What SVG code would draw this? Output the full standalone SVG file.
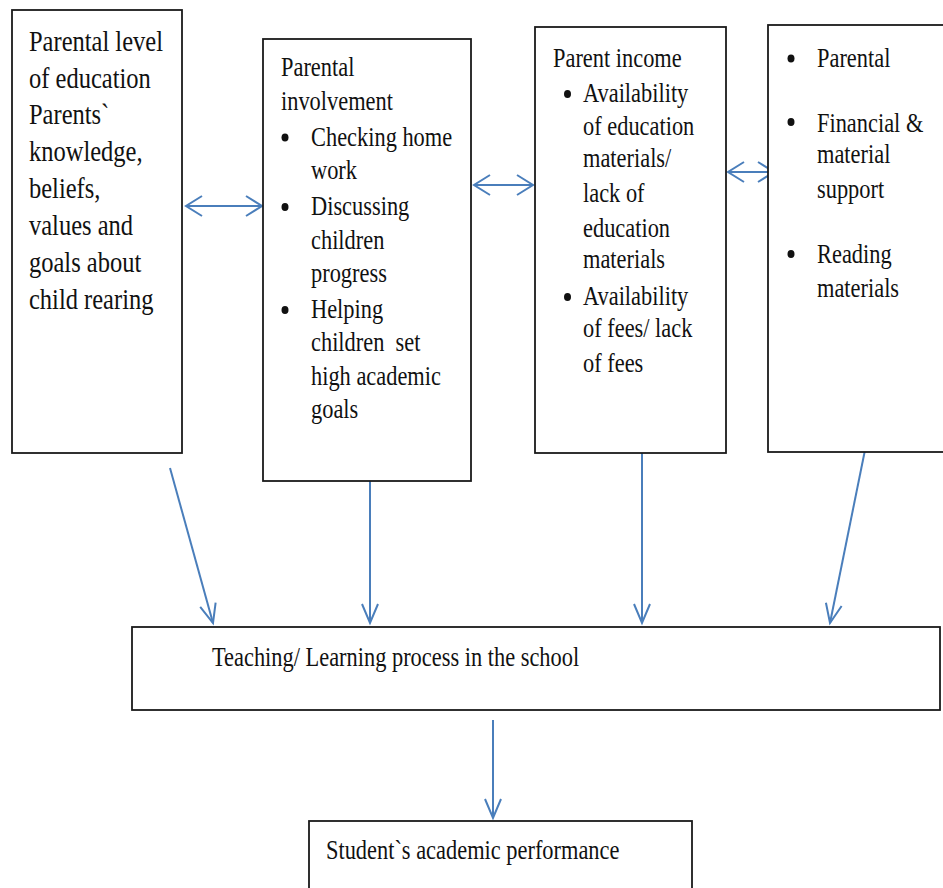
<svg xmlns="http://www.w3.org/2000/svg" width="943" height="888" viewBox="0 0 943 888">
<style>
.box{fill:#fff;stroke:#1a1a1a;stroke-width:1.8}
text{font-family:'Liberation Serif','DejaVu Serif',serif;fill:#111}
.t{font-size:22.4px}
.t1{font-size:24.5px}
.c{stroke:#4a7ebb;stroke-width:2;fill:none}
.b{fill:#111}
</style>
<defs>
<marker id="ahv" markerUnits="userSpaceOnUse" markerWidth="22" markerHeight="20" refX="20" refY="9" orient="auto" overflow="visible">
<path d="M1,1 L20,9 L1,17" fill="none" stroke="#4a7ebb" stroke-width="2"/>
</marker>
<marker id="ahh" markerUnits="userSpaceOnUse" markerWidth="19" markerHeight="24" refX="17" refY="11" orient="auto-start-reverse" overflow="visible">
<path d="M1,1 L17,11 L1,21" fill="none" stroke="#4a7ebb" stroke-width="2"/>
</marker>
</defs>
<rect width="943" height="888" fill="#fff"/>
<g id="connectors">
<line class="c" x1="186" y1="206" x2="262" y2="206" marker-start="url(#ahh)" marker-end="url(#ahh)"/>
<line class="c" x1="474" y1="185" x2="533" y2="185" marker-start="url(#ahh)" marker-end="url(#ahh)"/>
<line class="c" x1="728" y1="172" x2="774" y2="172" marker-start="url(#ahh)" marker-end="url(#ahh)"/>
<line class="c" x1="170" y1="468" x2="213" y2="623" marker-end="url(#ahv)"/>
<line class="c" x1="370" y1="481" x2="370" y2="623" marker-end="url(#ahv)"/>
<line class="c" x1="642" y1="453" x2="642" y2="623" marker-end="url(#ahv)"/>
<line class="c" x1="865" y1="450" x2="830" y2="623" marker-end="url(#ahv)"/>
<line class="c" x1="493" y1="720" x2="493" y2="818" marker-end="url(#ahv)"/>
</g>
<g id="node-education">
<rect class="box" x="12" y="10" width="170" height="443"/>
<text class="t1" font-family="Liberation Serif, serif" transform="translate(29,51) scale(1,1.17)">Parental level</text>
<text class="t1" transform="translate(29,88) scale(1,1.17)">of education</text>
<text class="t1" transform="translate(29,124) scale(1,1.17)">Parents`</text>
<text class="t1" transform="translate(29,161) scale(1,1.17)">knowledge,</text>
<text class="t1" transform="translate(29,198) scale(1,1.17)">beliefs,</text>
<text class="t1" transform="translate(29,235) scale(1,1.17)">values and</text>
<text class="t1" transform="translate(29,272) scale(1,1.17)">goals about</text>
<text class="t1" transform="translate(29,309) scale(1,1.17)">child rearing</text>
</g>
<g id="node-involvement">
<rect class="box" x="263" y="39" width="208" height="442"/>
<text class="t" transform="translate(281,76) scale(1,1.2)">Parental</text>
<text class="t" transform="translate(281,110) scale(1,1.2)">involvement</text>
<ellipse class="b" cx="285" cy="137.5" rx="3.5" ry="4"/>
<text class="t" transform="translate(311,146) scale(1,1.2)">Checking home</text>
<text class="t" transform="translate(311,179) scale(1,1.2)">work</text>
<ellipse class="b" cx="285" cy="207" rx="3.5" ry="4"/>
<text class="t" transform="translate(311,215) scale(1,1.2)">Discussing</text>
<text class="t" transform="translate(311,249) scale(1,1.2)">children</text>
<text class="t" transform="translate(311,282) scale(1,1.2)">progress</text>
<ellipse class="b" cx="285" cy="310" rx="3.5" ry="4"/>
<text class="t" transform="translate(311,318) scale(1,1.2)">Helping</text>
<text class="t" transform="translate(311,351) scale(1,1.2)" xml:space="preserve">children  set</text>
<text class="t" transform="translate(311,385) scale(1,1.2)">high academic</text>
<text class="t" transform="translate(311,418) scale(1,1.2)">goals</text>
</g>
<g id="node-income">
<rect class="box" x="535" y="27" width="191" height="426"/>
<text class="t" transform="translate(553,67) scale(1,1.2)">Parent income</text>
<ellipse class="b" cx="567.5" cy="94" rx="3.5" ry="4"/>
<text class="t" transform="translate(583,102) scale(1,1.2)">Availability</text>
<text class="t" transform="translate(583,135) scale(1,1.2)">of education</text>
<text class="t" transform="translate(583,167) scale(1,1.2)">materials/</text>
<text class="t" transform="translate(583,202) scale(1,1.2)">lack of</text>
<text class="t" transform="translate(583,237) scale(1,1.2)">education</text>
<text class="t" transform="translate(583,268) scale(1,1.2)">materials</text>
<ellipse class="b" cx="567.5" cy="297" rx="3.5" ry="4"/>
<text class="t" transform="translate(583,305) scale(1,1.2)">Availability</text>
<text class="t" transform="translate(583,337) scale(1,1.2)">of fees/ lack</text>
<text class="t" transform="translate(583,372) scale(1,1.2)">of fees</text>
</g>
<g id="node-support">
<rect class="box" x="768" y="25" width="180" height="427"/>
<ellipse class="b" cx="791" cy="58.5" rx="3.5" ry="4"/>
<text class="t" transform="translate(817,67) scale(1,1.2)">Parental</text>
<ellipse class="b" cx="791" cy="122" rx="3.5" ry="4"/>
<text class="t" transform="translate(817,132) scale(1,1.2)">Financial &amp;</text>
<text class="t" transform="translate(817,163) scale(1,1.2)">material</text>
<text class="t" transform="translate(817,198) scale(1,1.2)">support</text>
<ellipse class="b" cx="791" cy="254" rx="3.5" ry="4"/>
<text class="t" transform="translate(817,263) scale(1,1.2)">Reading</text>
<text class="t" transform="translate(817,297) scale(1,1.2)">materials</text>
</g>
<g id="node-teaching">
<rect class="box" x="132" y="627" width="808" height="83"/>
<text class="t" transform="translate(212,666) scale(1,1.25)">Teaching/ Learning process in the school</text>
</g>
<g id="node-performance">
<rect class="box" x="309" y="821" width="383" height="80"/>
<text class="t" transform="translate(326,859) scale(1,1.25)">Student`s academic performance</text>
</g>
</svg>
